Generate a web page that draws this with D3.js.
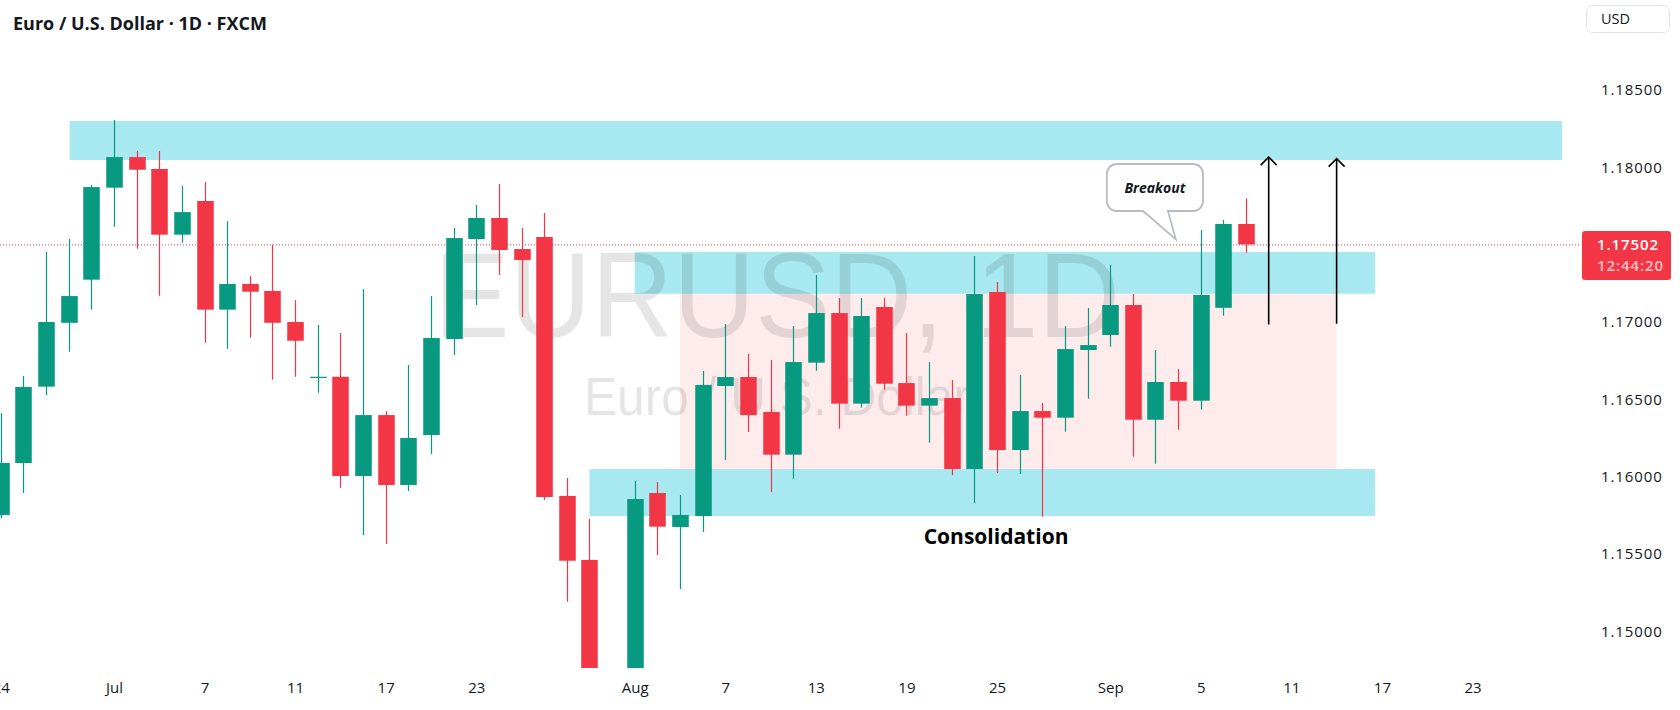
<!DOCTYPE html>
<html>
<head>
<meta charset="utf-8">
<script src="https://cdn.jsdelivr.net/npm/d3@7"></script>
<style>
  body { margin: 0; background: #fff; }
  svg { display: block; font-family: "Open Sans", "DejaVu Sans", sans-serif; }
</style>
</head>
<body>
<svg id="chart" width="1680" height="710"></svg>
<script>
// daily bars, EURUSD (FXCM), 24 Jun .. 9 Sep
const dates = [
  "2025-06-24","2025-06-25","2025-06-26","2025-06-27","2025-06-30",
  "2025-07-01","2025-07-02","2025-07-03","2025-07-04","2025-07-07","2025-07-08","2025-07-09","2025-07-10","2025-07-11",
  "2025-07-14","2025-07-15","2025-07-16","2025-07-17","2025-07-18","2025-07-21","2025-07-22","2025-07-23","2025-07-24",
  "2025-07-25","2025-07-28","2025-07-29","2025-07-30","2025-07-31",
  "2025-08-01","2025-08-04","2025-08-05","2025-08-06","2025-08-07","2025-08-08","2025-08-11","2025-08-12","2025-08-13",
  "2025-08-14","2025-08-15","2025-08-18","2025-08-19","2025-08-20","2025-08-21","2025-08-22","2025-08-25","2025-08-26",
  "2025-08-27","2025-08-28","2025-08-29",
  "2025-09-01","2025-09-02","2025-09-03","2025-09-04","2025-09-05","2025-09-08","2025-09-09"
];
const opens = [
  1.15752,1.16088,1.16582,1.16995,1.17274,
  1.17869,1.18067,1.17990,1.17565,1.17783,1.17080,1.17246,1.17201,1.17000,
  1.16640,1.16646,1.16004,1.16398,1.15946,1.16269,1.16890,1.17537,1.17673,
  1.17472,1.17550,1.15875,1.15461,1.14060,
  1.14160,1.15894,1.15674,1.15745,1.16586,1.16644,1.16418,1.16142,1.16737,
  1.17058,1.16472,1.17097,1.16605,1.16459,1.16508,1.16049,1.17194,1.16172,
  1.16424,1.16381,1.16819,
  1.16916,1.17110,1.16368,1.16612,1.16491,1.17092,1.17634
];
const highs = [
  1.16411,1.16651,1.17453,1.17537,1.17886,
  1.18307,1.18106,1.18106,1.17880,1.17906,1.17653,1.17298,1.17500,1.17142,
  1.16981,1.16929,1.17213,1.16424,1.16722,1.17168,1.17608,1.17757,1.17893,
  1.17608,1.17705,1.15991,1.15726,1.14690,
  1.15972,1.15965,1.15881,1.16683,1.16987,1.16793,1.16754,1.16974,1.17304,
  1.17155,1.17155,1.17155,1.16929,1.16741,1.16625,1.17427,1.17259,1.16657,
  1.16476,1.16974,1.17091,
  1.17369,1.17181,1.16819,1.16696,1.17595,1.17660,1.17800
];
const lows = [
  1.15732,1.15894,1.16528,1.16808,1.17080,
  1.17616,1.17474,1.17170,1.17513,1.16866,1.16827,1.16898,1.16627,1.16646,
  1.16543,1.15926,1.15622,1.15564,1.15907,1.16146,1.16787,1.17110,1.17304,
  1.17032,1.15849,1.15191,1.14010,1.14000,
  1.13920,1.15493,1.15273,1.15642,1.16107,1.16289,1.15900,1.15986,1.16685,
  1.16310,1.16446,1.16562,1.16394,1.16219,1.16010,1.15829,1.16023,1.16017,
  1.15741,1.16290,1.16504,
  1.16840,1.16129,1.16083,1.16303,1.16433,1.17041,1.17448
];
const closes = [
  1.16088,1.16580,1.17000,1.17168,1.17873,
  1.18067,1.17985,1.17565,1.17711,1.17080,1.17246,1.17196,1.16995,1.16879,
  1.16646,1.16004,1.16398,1.15946,1.16250,1.16897,1.17543,1.17673,1.17466,
  1.17401,1.15868,1.15456,1.14050,1.14160,
  1.15855,1.15676,1.15752,1.16593,1.16644,1.16398,1.16142,1.16741,1.17058,
  1.16472,1.17039,1.16601,1.16459,1.16508,1.16049,1.17181,1.16172,1.16424,
  1.16381,1.16825,1.16851,
  1.17110,1.16368,1.16612,1.16491,1.17175,1.17634,1.17502
];

const tickDates  = ["2025-06-24","2025-07-01","2025-07-07","2025-07-11","2025-07-17","2025-07-23","2025-08-01","2025-08-07",
                    "2025-08-13","2025-08-19","2025-08-25","2025-09-01","2025-09-05","2025-09-11","2025-09-17","2025-09-23"];
const tickLabels = ["24","Jul","7","11","17","23","Aug","7","13","19","25","Sep","5","11","17","23"];
// 1.175 sits under the last-price tag, so it is left out like in the chart
const priceTicks = [1.150,1.155,1.160,1.165,1.170,1.180,1.185];

// drawn zones: bar positions counted from the first bar, prices
const zones = [
  {x0: 3.04,  x1: 68.96, top: 1.18300, bottom: 1.18048, fill: "rgba(0,188,212,0.34)"},
  {x0: 26.0,  x1: 60.7,  top: 1.16049, bottom: 1.15745, fill: "rgba(0,188,212,0.34)"},
  {x0: 28.0,  x1: 60.7,  top: 1.17453, bottom: 1.17183, fill: "rgba(0,188,212,0.34)"},
  {x0: 30.0,  x1: 59.0,  top: 1.17183, bottom: 1.16049, fill: "rgba(242,54,69,0.1)"}
];
const arrows = [
  {x: 56.0, from: 1.16984, to: 1.18067},
  {x: 59.0, from: 1.16989, to: 1.18057}
];
const callout = {text: "Breakout", x0: 48.85, x1: 53.1, top: 1.18022, bottom: 1.17718,
                 tailX0: 50.45, tailX1: 51.55, tipX: 51.9, tipY: 1.17535};
const note = {text: "Consolidation", x: 43.96, price: 1.15566};

const width = 1680, height = 710;
const pane = {left: 0, right: 1580, top: 0, bottom: 668};
const up = "#089981", down = "#f23645", ink = "#131722";

const svg = d3.select("#chart");
svg.append("rect").attr("width", width).attr("height", height).attr("fill", "#fff");

// trading calendar (weekdays) so the axis can run past the last bar
const parse = d3.timeParse("%Y-%m-%d"), fmt = d3.timeFormat("%Y-%m-%d");
const calendar = d3.timeDay.range(parse(dates[0]), parse("2025-10-10")).filter(d => d.getDay() % 6 !== 0);
const slot = new Map(calendar.map((d, i) => [fmt(d), i]));

const x = d3.scaleLinear().domain([-0.035, 69.75]).range([pane.left, pane.right]);
const y = d3.scaleLinear().domain([1.14762, 1.19083]).range([pane.bottom, pane.top]);
const step = x(1) - x(0);
const bodyW = step * 0.73;

const bars = dates.map((d, i) => ({
  date: d, i: slot.get(d), o: opens[i], h: highs[i], l: lows[i], c: closes[i]
}));

svg.append("defs").append("clipPath").attr("id", "pane")
  .append("rect").attr("x", pane.left).attr("y", pane.top)
  .attr("width", pane.right - pane.left).attr("height", pane.bottom - pane.top);

const plot = svg.append("g").attr("clip-path", "url(#pane)");

// zones
plot.selectAll(".zone").data(zones).enter().append("rect")
  .attr("class", "zone")
  .attr("x", d => x(d.x0))
  .attr("width", d => x(d.x1) - x(d.x0))
  .attr("y", d => y(d.top))
  .attr("height", d => y(d.bottom) - y(d.top))
  .attr("fill", d => d.fill);

// watermark
const wm = plot.append("g").attr("fill", "rgba(0,0,0,0.1)").attr("text-anchor", "middle")
  .style("font-family", "'Liberation Sans', Arial, sans-serif");
wm.append("text").attr("x", 777).attr("y", 337).attr("font-size", 121)
  .attr("textLength", 686).attr("lengthAdjust", "spacingAndGlyphs").text("EURUSD, 1D");
wm.append("text").attr("x", 777).attr("y", 415).attr("font-size", 53)
  .attr("textLength", 386).attr("lengthAdjust", "spacingAndGlyphs").text("Euro / U.S. Dollar");

// last price line
const last = bars[bars.length - 1];
plot.append("line")
  .attr("x1", pane.left).attr("x2", pane.right)
  .attr("y1", y(last.c) + 0.5).attr("y2", y(last.c) + 0.5)
  .attr("stroke", down).attr("stroke-width", 1).attr("stroke-dasharray", "1,2");

// candles
const candle = plot.selectAll(".bar").data(bars).enter().append("g").attr("class", "bar");
candle.append("line")
  .attr("x1", d => Math.round(x(d.i)) + 0.5).attr("x2", d => Math.round(x(d.i)) + 0.5)
  .attr("y1", d => y(d.h)).attr("y2", d => y(d.l))
  .attr("stroke", d => d.c >= d.o ? up : down).attr("stroke-width", 1.2);
candle.append("rect")
  .attr("x", d => Math.round(x(d.i)) + 0.5 - bodyW / 2)
  .attr("width", bodyW)
  .attr("y", d => y(Math.max(d.o, d.c)))
  .attr("height", d => Math.max(1.2, Math.abs(y(d.o) - y(d.c))))
  .attr("fill", d => d.c >= d.o ? up : down);

// arrows
const arr = plot.selectAll(".arrow").data(arrows).enter().append("g").attr("class", "arrow")
  .attr("stroke", "#000").attr("stroke-width", 1.6).attr("fill", "none");
arr.append("line")
  .attr("x1", d => x(d.x)).attr("x2", d => x(d.x))
  .attr("y1", d => y(d.from)).attr("y2", d => y(d.to));
arr.append("polyline")
  .attr("points", d => [[x(d.x) - 8, y(d.to) + 8], [x(d.x), y(d.to)], [x(d.x) + 8, y(d.to) + 8]].join(" "));

// breakout callout
{
  const bx0 = x(callout.x0), bx1 = x(callout.x1), by0 = y(callout.top), by1 = y(callout.bottom);
  const r = 10, t0 = x(callout.tailX0), t1 = x(callout.tailX1);
  const p = d3.path();
  p.moveTo(bx0 + r, by0);
  p.lineTo(bx1 - r, by0); p.arcTo(bx1, by0, bx1, by0 + r, r);
  p.lineTo(bx1, by1 - r); p.arcTo(bx1, by1, bx1 - r, by1, r);
  p.lineTo(t1, by1); p.lineTo(x(callout.tipX), y(callout.tipY)); p.lineTo(t0, by1);
  p.lineTo(bx0 + r, by1); p.arcTo(bx0, by1, bx0, by1 - r, r);
  p.lineTo(bx0, by0 + r); p.arcTo(bx0, by0, bx0 + r, by0, r);
  p.closePath();
  plot.append("path").attr("d", p.toString())
    .attr("fill", "#fff").attr("stroke", "#b8bbc4").attr("stroke-width", 1.8);
  plot.append("text")
    .attr("x", (bx0 + bx1) / 2).attr("y", (by0 + by1) / 2 + 5)
    .attr("text-anchor", "middle").attr("font-size", 14).attr("font-weight", 700)
    .attr("font-style", "italic").attr("fill", ink).text(callout.text);
}

plot.append("text")
  .attr("x", x(note.x)).attr("y", y(note.price))
  .attr("text-anchor", "middle").attr("font-size", 21).attr("font-weight", 700)
  .attr("fill", "#000").text(note.text);

// time axis
const xAxis = d3.axisBottom(x)
  .tickValues(tickDates.map(d => slot.get(d)))
  .tickFormat((d, i) => tickLabels[i])
  .tickSize(0).tickPadding(0);
const gx = svg.append("g").attr("transform", "translate(0,682)").call(xAxis);
gx.select(".domain").remove();
gx.selectAll("text").attr("fill", ink).attr("font-size", 15).attr("dy", "0.71em")
  .style("font-family", "'Open Sans', sans-serif");

// price axis
const yAxis = d3.axisRight(y).tickValues(priceTicks).tickFormat(d3.format(".5f")).tickSize(0).tickPadding(0);
const gy = svg.append("g").attr("transform", "translate(1601,0)").call(yAxis);
gy.select(".domain").remove();
gy.selectAll("text").attr("fill", ink).attr("font-size", 15).attr("letter-spacing", 0.9)
  .style("font-family", "'Open Sans', sans-serif");

// currency box
svg.append("rect").attr("x", 1586.5).attr("y", 5.5).attr("width", 83).attr("height", 27).attr("rx", 6)
  .attr("fill", "#fff").attr("stroke", "#e0e3eb");
svg.append("text").attr("x", 1601).attr("y", 24).attr("font-size", 14.5).attr("fill", ink).text("USD");

// last price tag
const ly = y(last.c);
svg.append("rect").attr("x", 1582).attr("y", ly - 13.5).attr("width", 89).attr("height", 49).attr("rx", 3)
  .attr("fill", down);
svg.append("text").attr("x", 1597).attr("y", ly + 5.5).attr("font-size", 15).attr("font-weight", 600)
  .attr("letter-spacing", 0.9).attr("fill", "#fff").text(d3.format(".5f")(last.c));
svg.append("text").attr("x", 1597).attr("y", ly + 27).attr("font-size", 15).attr("font-weight", 600)
  .attr("letter-spacing", 0.9).attr("fill", "rgba(255,255,255,0.7)").text("12:44:20");

// title
svg.append("text").attr("x", 13).attr("y", 30).attr("font-size", 18).attr("font-weight", 700)
  .attr("fill", ink).text("Euro / U.S. Dollar · 1D · FXCM");
</script>
</body>
</html>
